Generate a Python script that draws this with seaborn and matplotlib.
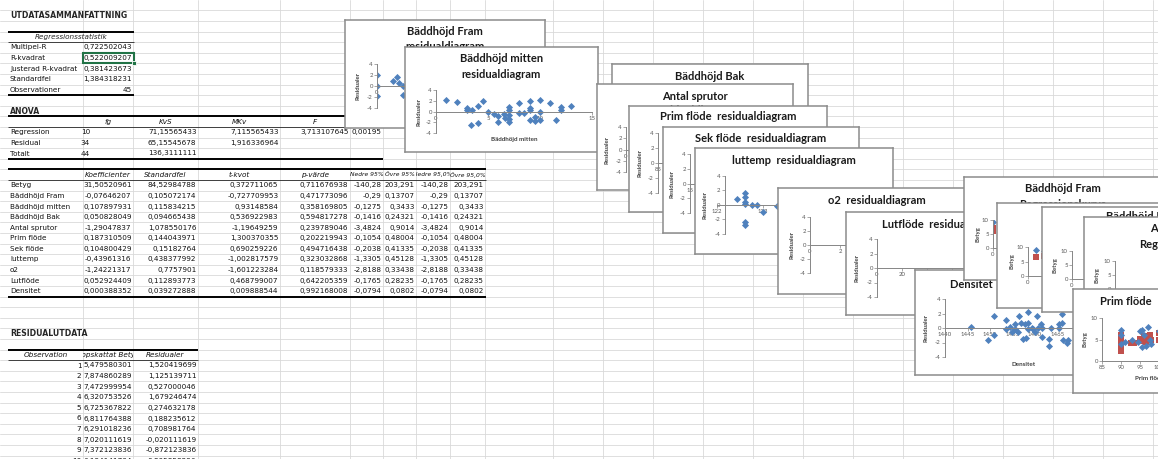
import numpy as np
import pandas as pd
import matplotlib
matplotlib.use("Agg")
import matplotlib.pyplot as plt
import seaborn as sns
from matplotlib.patches import Rectangle
from matplotlib.ticker import FixedLocator, FuncFormatter

# ---------------- DATA ----------------
summary_labels = ["Multipel-R", "R-kvadrat", "Justerad R-kvadrat", "Standardfel", "Observationer"]
summary_values = ["0,722502043", "0,522009207", "0,381423673", "1,384318231", "45"]

anova_headers = ["fg", "KvS", "MKv", "F", "p-värde för F"]
anova_labels = ["Regression", "Residual", "Totalt"]
anova_fg = ["10", "34", "44"]
anova_kvs = ["71,15565433", "65,15545678", "136,3111111"]
anova_mkv = ["7,115565433", "1,916336964", ""]
anova_f = ["3,713107645", "", ""]
anova_p = ["0,00195", "", ""]

coef_headers = ["Koefficienter", "Standardfel", "t-kvot", "p-värde",
                "Nedre 95%", "Övre 95%", "Nedre 95,0%", "Övre 95,0%"]
coef_labels = ["Betyg", "Bäddhöjd Fram", "Bäddhöjd mitten", "Bäddhöjd Bak", "Antal sprutor",
               "Prim flöde", "Sek flöde", "luttemp", "o2", "Lutflöde", "Densitet"]
coef_value = ["31,50520961", "-0,07646207", "0,107897931", "0,050828049", "-1,29047837",
              "0,187310509", "0,104800429", "-0,43961316", "-1,24221317", "0,052924409", "0,000388352"]
coef_se = ["84,52984788", "0,105072174", "0,115834215", "0,094665438", "1,078550176",
           "0,144043971", "0,15182764", "0,438377992", "0,7757901", "0,112893773", "0,039272888"]
coef_t = ["0,372711065", "-0,727709953", "0,93148584", "0,536922983", "-1,19649259",
          "1,300370355", "0,690259226", "-1,002817579", "-1,601223284", "0,468799007", "0,009888544"]
coef_p = ["0,711676938", "0,471773096", "0,358169805", "0,594817278", "0,239789046",
          "0,202219943", "0,494716438", "0,323032868", "0,118579333", "0,642205359", "0,992168008"]
coef_lo = ["-140,28", "-0,29", "-0,1275", "-0,1416", "-3,4824", "-0,1054", "-0,2038",
           "-1,3305", "-2,8188", "-0,1765", "-0,0794"]
coef_hi = ["203,291", "0,13707", "0,3433", "0,24321", "0,9014", "0,48004", "0,41335",
           "0,45128", "0,33438", "0,28235", "0,0802"]

resid_headers = ["Observation", "Uppskattat Betyg", "Residualer"]
resid_obs = ["1", "2", "3", "4", "5", "6", "7", "8", "9", "10"]
resid_pred = ["5,479580301", "7,874860289", "7,472999954", "6,320753526", "6,725367822",
              "6,811764388", "6,291018236", "7,020111619", "7,372123836", "6,194141704"]
resid_res = ["1,520419699", "1,125139711", "0,527000046", "1,679246474", "0,274632178",
             "0,188235612", "0,708981764", "-0,020111619", "-0,872123836", "0,805858296"]

# residual plots
fram_res_x = [0, 0, 0, 1.6, 2.0, 2.2, 2.5, 2.5]
fram_res_y = [2.0, 0.0, -1.8, 0.9, 1.6, 0.5, 0.0, -1.6]

mitten_res_x = [1.0, 2.0, 3.0, 3.0, 3.5, 4.0, 4.5, 3.4, 4.0, 5.0,
                5.6, 6.0, 6.0, 6.5, 6.6, 7.0, 7.0, 7.0, 7.0, 7.0,
                8.0, 8.0, 8.5, 9.0, 9.0, 9.0, 9.0, 9.5, 9.5, 10.0,
                10.0, 10.0, 11.0, 11.5, 12.0, 12.0, 13.0]
mitten_res_y = [2.1, 1.7, 0.6, 0.2, 0.2, 1.0, 1.9, -2.5, -2.2, 0.0,
                -0.4, -0.8, -2.0, -0.4, -1.2, 0.9, 0.2, -0.6, -1.4, -1.9,
                1.6, -0.2, -0.2, 1.9, 0.6, 0.2, -1.6, -1.1, -1.7, 2.2,
                0.0, -1.6, 1.6, -1.6, 0.8, 0.2, 1.1]

luttemp_res_x = [122.43, 122.6, 122.6, 122.6, 122.6, 122.6, 122.6, 122.76, 122.86, 123.0, 123.3]
luttemp_res_y = [0.8, 1.7, 1.15, 0.46, 0.14, -2.4, -2.8, 0.0, 0.0, -0.9, -0.1]

densitet_res_x = [1445.7, 1449.6, 1450.9, 1450.9, 1453.6, 1453.6, 1454.4, 1454.8, 1455.6, 1455.6,
                  1456.3, 1456.5, 1456.8, 1457.4, 1457.8, 1458.1, 1458.4, 1458.5, 1458.5, 1459.3,
                  1459.6, 1460.0, 1460.4, 1460.7, 1461.3, 1461.5, 1461.5, 1463.2, 1463.2, 1463.5,
                  1465.4, 1465.4, 1466.1, 1466.1, 1466.3, 1467.0, 1467.4]
densitet_res_y = [0.2, -1.6, 1.6, -0.9, 1.1, -0.1, 0.2, -0.5, 0.6, -0.2,
                  -0.6, 1.6, 0.7, -1.5, 0.5, -1.4, 2.2, 0.7, -0.2, 0.0,
                  -0.2, -0.5, 1.7, 0.0, 0.6, 0.0, -1.2, -1.5, -2.5, 0.0,
                  0.5, 0.0, 1.9, 0.7, -1.7, -2.0, -1.6]

# regression plots (Betyg = blue, predicted = red)
fram_reg_x = [0]
fram_reg_betyg = [9.3]
fram_reg_pred_x = [0, 0]
fram_reg_pred = [7.1, 6.2]

mitten_reg_x = [1, 2]
mitten_reg_betyg = [8.8, 8.5]
mitten_reg_pred = [6.7, 6.8]

prim_betyg_x = [90, 90, 90, 91, 93, 94.5, 95, 95.5, 96, 96.5, 97, 97.5, 98, 95.5, 100]
prim_betyg_y = [7.2, 6.0, 4.0, 4.5, 5.0, 4.5, 7.0, 7.1, 6.0, 3.5, 8.0, 5.0, 4.0, 3.2, 7.0]
prim_pred_x = [90, 90, 90, 90, 90, 92.5, 93.5, 95, 95.5, 96, 96.5, 97, 97.5, 98, 100, 100]
prim_pred_y = [6.0, 5.0, 4.0, 3.0, 2.3, 4.2, 4.2, 5.2, 4.6, 5.8, 4.5, 5.5, 6.0, 4.8, 6.5, 4.8]

resid_ticks = [-4, -2, 0, 2, 4]
betyg_ticks = [0, 5, 10]

# ---------------- STYLE ----------------
sns.set_theme(style="white")
plt.rcParams['font.family'] = ['Lato', 'DejaVu Sans']
plt.rcParams['axes.unicode_minus'] = False

W, H = 1158, 459
fig = plt.figure(figsize=(W / 100, H / 100), dpi=100)
fig.patch.set_facecolor('white')

BLUE = '#4F81BD'
RED = '#C0504D'
AXIS_C = '#868686'
GRID_C = '#d9d9d9'
TXT = ['DejaVu Sans']
FS = 5.2


def px_axes(x0, y0, x1, y1):
    return fig.add_axes([x0 / W, 1 - y1 / H, (x1 - x0) / W, (y1 - y0) / H])


# ---------------- SPREADSHEET LAYER ----------------
bg = px_axes(0, 0, W, H)
bg.set_xlim(0, W)
bg.set_ylim(H, 0)
bg.axis('off')

ROW0, RH = 10.4, 10.6


def rb(k):
    return ROW0 + RH * k


def rc(r):
    return ROW0 + RH * r + RH / 2


grid_cols = [83, 133, 198, 280, 350, 383, 416, 450, 485, 553, 603, 653, 703, 753,
             803, 853, 903, 953, 1003, 1053, 1103, 1153]
k = 0
while rb(k) < H:
    bg.plot([0, W], [rb(k), rb(k)], color=GRID_C, lw=0.6, zorder=1)
    k += 1
for cx in grid_cols:
    bg.plot([cx, cx], [0, H], color=GRID_C, lw=0.6, zorder=1)

cols = [8, 83, 133, 198, 280, 350, 383, 416, 450, 485]


def cell(ci, r, s, align='right', italic=False, bold=False, clip=False, fs=FS):
    l, rgt = cols[ci], cols[ci + 1]
    y = rc(r)
    if align == 'right':
        x, ha = rgt - 1.5, 'right'
    elif align == 'left':
        x, ha = l + 2, 'left'
    else:
        x, ha = (l + rgt) / 2, 'center'
    t = bg.text(x, y, s, ha=ha, va='center', fontsize=fs, family=TXT, color='#111111',
                fontstyle='italic' if italic else 'normal',
                fontweight='bold' if bold else 'normal', zorder=3, clip_on=clip)
    if clip:
        rect = Rectangle((l, rb(r)), rgt - l, RH, transform=bg.transData)
        t.set_clip_path(rect)
    return t


def hline(y, x0, x1, lw):
    bg.plot([x0, x1], [y, y], color='black', lw=lw, zorder=2, solid_capstyle='butt')


# summary
bg.text(10, rc(0), "UTDATASAMMANFATTNING", ha='left', va='center', fontsize=5.6,
        family=TXT, fontweight='bold', zorder=3)
hline(rb(2), 8, 134, 1.4)
bg.text(71, rc(2), "Regressionsstatistik", ha='center', va='center', fontsize=FS,
        family=TXT, fontstyle='italic', zorder=3)
hline(rb(3), 8, 134, 0.5)
for i, (lab, val) in enumerate(zip(summary_labels, summary_values)):
    cell(0, 3 + i, lab, 'left')
    cell(1, 3 + i, val, 'right')
hline(rb(8), 8, 134, 1.4)
bg.add_patch(Rectangle((83, rb(4)), 51, RH, fill=False, ec='#217346', lw=1.5, zorder=4))
bg.add_patch(Rectangle((132, rb(5) - 2), 4, 4, fc='#217346', ec='white', lw=0.6, zorder=5))

# ANOVA
bg.text(10, rc(9), "ANOVA", ha='left', va='center', fontsize=5.6, family=TXT,
        fontweight='bold', zorder=3)
hline(rb(10), 8, 383, 1.4)
for j, hd in enumerate(anova_headers):
    cell(1 + j, 10, hd, 'center', italic=True, clip=True)
hline(rb(11), 8, 383, 0.5)
for i, lab in enumerate(anova_labels):
    r = 11 + i
    cell(0, r, lab, 'left')
    bg.text(90, rc(r), anova_fg[i], ha='right', va='center', fontsize=FS, family=TXT,
            color='#111111', zorder=3)
    cell(2, r, anova_kvs[i])
    cell(3, r, anova_mkv[i])
    cell(4, r, anova_f[i])
    cell(5, r, anova_p[i])
hline(rb(14), 8, 383, 1.4)

# coefficients
hline(rb(15), 8, 486, 1.4)
for j, hd in enumerate(coef_headers):
    cell(1 + j, 15, hd, 'center', italic=True, clip=True, fs=(FS if j < 4 else 4.3))
hline(rb(16), 8, 486, 0.5)
for i, lab in enumerate(coef_labels):
    r = 16 + i
    cell(0, r, lab, 'left')
    for j, arr in enumerate([coef_value, coef_se, coef_t, coef_p, coef_lo, coef_hi, coef_lo, coef_hi]):
        cell(1 + j, r, arr[i], 'right', clip=True)
hline(rb(27), 8, 486, 1.4)

# residual output
bg.text(10, rc(30), "RESIDUALUTDATA", ha='left', va='center', fontsize=5.6, family=TXT,
        fontweight='bold', zorder=3)
hline(rb(32), 8, 198, 1.4)
for j, hd in enumerate(resid_headers):
    cell(j, 32, hd, 'center', italic=True, clip=True)
hline(rb(33), 8, 198, 0.5)
for i in range(len(resid_obs)):
    r = 33 + i
    cell(0, r, resid_obs[i])
    cell(1, r, resid_pred[i])
    cell(2, r, resid_res[i])


# ---------------- CHART HELPERS ----------------
def chart_box(x0, y0, x1, y1, titles, title_ys):
    ax = px_axes(x0, y0, x1, y1)
    ax.set_xlim(x0, x1)
    ax.set_ylim(y1, y0)
    ax.set_facecolor('white')
    ax.set_xticks([])
    ax.set_yticks([])
    ax.grid(False)
    for s in ax.spines.values():
        s.set_visible(True)
        s.set_color('#8c8c8c')
        s.set_linewidth(1.1)
    for t, ty in zip(titles, title_ys):
        ax.text((x0 + x1) / 2, ty, t, ha='center', va='center', fontsize=8,
                fontweight='bold', color='#1a1a1a')
    return ax


def style_plot(ax, box, xlim, ylim, xticks, yticks, ylabel, ylabel_x,
               xlabel=None, xlabel_y=None, spine_x=None, zero_axis=True):
    left, top, right, bottom = box
    ax.set_xlim(*xlim)
    ax.set_ylim(*ylim)
    ax.patch.set_visible(False)
    ax.grid(False)
    ax.spines['top'].set_visible(False)
    ax.spines['right'].set_visible(False)
    for kk in ('left', 'bottom'):
        ax.spines[kk].set_visible(True)
        ax.spines[kk].set_color(AXIS_C)
        ax.spines[kk].set_linewidth(0.7)
    if spine_x is not None:
        ax.spines['left'].set_position(('data', spine_x))
    if zero_axis:
        ax.spines['bottom'].set_position(('data', 0))
    ax.xaxis.set_major_locator(FixedLocator(xticks))
    ax.yaxis.set_major_locator(FixedLocator(yticks))
    fmt = FuncFormatter(lambda v, p: f"{v:g}")
    ax.xaxis.set_major_formatter(fmt)
    ax.yaxis.set_major_formatter(fmt)
    ax.tick_params(axis='both', which='major', labelsize=4.3, labelcolor='#595959',
                   color=AXIS_C, length=2, width=0.5, pad=1, bottom=True, left=True,
                   direction='out')
    ax.set_ylabel(ylabel, fontsize=4.3, fontweight='bold', color='#404040', va='center')
    ax.yaxis.set_label_coords((ylabel_x - left) / (right - left), 0.5)
    if xlabel:
        ax.set_xlabel(xlabel, fontsize=4.5, fontweight='bold', color='#404040', va='center')
        ax.xaxis.set_label_coords(0.5, (bottom - xlabel_y) / (bottom - top))
    else:
        ax.set_xlabel('')


def blue(ax, x, y):
    sns.scatterplot(x=np.asarray(x, float), y=np.asarray(y, float), ax=ax, marker='D',
                    s=13, color=BLUE, linewidth=0, legend=False)


def red(ax, x, y):
    sns.scatterplot(x=np.asarray(x, float), y=np.asarray(y, float), ax=ax, marker='s',
                    s=20, color=RED, linewidth=0, legend=False)


# ---------------- CHARTS (back to front) ----------------
# 1 Bäddhöjd Fram residual
chart_box(345, 20, 545, 128, ["Bäddhöjd Fram", "residualdiagram"], [32, 47])
b = (377, 64, 530, 108)
ax = px_axes(b[0], b[1], b[2], b[3])
blue(ax, fram_res_x, fram_res_y)
style_plot(ax, b, (0, 15), (-4, 4), [0, 5, 10, 15], resid_ticks, "Residualer", 358,
           "Bäddhöjd Fram", 118)

# 2 Bäddhöjd mitten residual
chart_box(405, 47, 598, 152, ["Bäddhöjd mitten", "residualdiagram"], [58, 74])
b = (436, 90, 592, 133)
ax = px_axes(*b)
blue(ax, mitten_res_x, mitten_res_y)
style_plot(ax, b, (0, 15), (-4, 4), [0, 5, 10, 15], resid_ticks, "Residualer", 419,
           "Bäddhöjd mitten", 140)

# 3 Bäddhöjd Bak residual (plot hidden)
chart_box(612, 64, 808, 170, ["Bäddhöjd Bak", "residualdiagram"], [77, 92])

# 4 Antal sprutor residual
chart_box(597, 84, 793, 190, ["Antal sprutor", "residualdiagram"], [96, 111])
b = (626, 127, 780, 172)
ax = px_axes(*b)
style_plot(ax, b, (0, 5), (-4, 4), [0], resid_ticks, "Residualer", 607)

# 5 Prim flöde residual
chart_box(629, 106, 827, 212, ["Prim flöde  residualdiagram"], [117])
b = (658, 133, 812, 193)
ax = px_axes(*b)
style_plot(ax, b, (85, 110), (-4, 4), [85, 90, 95, 100, 105, 110], resid_ticks,
           "Residualer", 640)

# 6 Sek flöde residual
chart_box(663, 127, 859, 233, ["Sek flöde  residualdiagram"], [139])
b = (690, 154, 845, 213)
ax = px_axes(*b)
style_plot(ax, b, (15, 35), (-4, 4), [15, 20, 25, 30, 35], resid_ticks, "Residualer", 672)

# 7 luttemp residual
chart_box(695, 148, 893, 254, ["luttemp  residualdiagram"], [160])
b = (717, 176, 878, 234)
ax = px_axes(*b)
blue(ax, luttemp_res_x, luttemp_res_y)
style_plot(ax, b, (122, 125.5), (-4, 4), [122, 123, 124, 125], resid_ticks, "Residualer",
           705, "luttemp", 241, spine_x=122.17)

# 8 o2 residual
chart_box(778, 188, 976, 294, ["o2  residualdiagram"], [201])
b = (810, 217, 962, 273)
ax = px_axes(*b)
style_plot(ax, b, (0, 10), (-4, 4), [0, 2, 4, 6, 8, 10], resid_ticks, "Residualer", 792)

# 9 Lutflöde residual
chart_box(846, 212, 1044, 315, ["Lutflöde  residualdiagram"], [224])
b = (877, 239, 1027, 297)
ax = px_axes(*b)
style_plot(ax, b, (0, 120), (-4, 4), [0, 20, 40, 60, 80, 100, 120], resid_ticks,
           "Residualer", 857)

# 10 Densitet residual
chart_box(915, 270, 1113, 375, ["Densitet  residualdiagram"], [284])
b = (945, 299, 1102.5, 357)
ax = px_axes(*b)
blue(ax, densitet_res_x, densitet_res_y)
style_plot(ax, b, (1440, 1475), (-4, 4), [1440, 1445, 1450, 1455, 1460, 1465, 1470, 1475],
           resid_ticks, "Residualer", 926, "Densitet", 364)

# 11 Bäddhöjd Fram regression
chart_box(964, 177, 1162, 280, ["Bäddhöjd Fram", "Regressionskurva"], [189, 204])
b = (993, 220, 1148, 248)
ax = px_axes(*b)
blue(ax, fram_reg_x, fram_reg_betyg)
red(ax, fram_reg_pred_x, fram_reg_pred)
style_plot(ax, b, (0, 15), (0, 10), [0, 5, 10, 15], betyg_ticks, "Betyg", 978)

# 12 Bäddhöjd mitten regression
chart_box(997, 203, 1195, 308, ["Bäddhöjd mitten", "Regressionskurva"], [215, 230])
b = (1028, 247, 1150, 276)
ax = px_axes(*b)
blue(ax, mitten_reg_x, mitten_reg_betyg)
red(ax, mitten_reg_x, mitten_reg_pred)
style_plot(ax, b, (0, 15), (0, 10), [0, 5, 10, 15], betyg_ticks, "Betyg", 1012)

# 13 Bäddhöjd Bak regression
chart_box(1042, 207, 1240, 312, ["Bäddhöjd Bak", "Regressionskurva"], [216, 231])
b = (1072, 251, 1225, 279)
ax = px_axes(*b)
style_plot(ax, b, (0, 15), (0, 10), [0, 5, 10, 15], betyg_ticks, "Betyg", 1055)

# 14 Antal sprutor regression
chart_box(1084, 217, 1282, 322, ["Antal sprutor", "Regressionskurva"], [229, 244])
b = (1115, 261, 1268, 289)
ax = px_axes(*b)
style_plot(ax, b, (0, 5), (0, 10), [0, 1, 2, 3, 4, 5], betyg_ticks, "Betyg", 1097)

# 15 Prim flöde regression
chart_box(1073, 289, 1271, 393, ["Prim flöde  Regressionskurva"], [302])
b = (1102, 318, 1197, 361)
ax = px_axes(*b)
red(ax, prim_pred_x, prim_pred_y)
blue(ax, prim_betyg_x, prim_betyg_y)
style_plot(ax, b, (85, 110), (0, 10), [85, 90, 95, 100, 105, 110], betyg_ticks, "Betyg",
           1085, "Prim flöde", 379)

fig.savefig("out.png", dpi=100)
